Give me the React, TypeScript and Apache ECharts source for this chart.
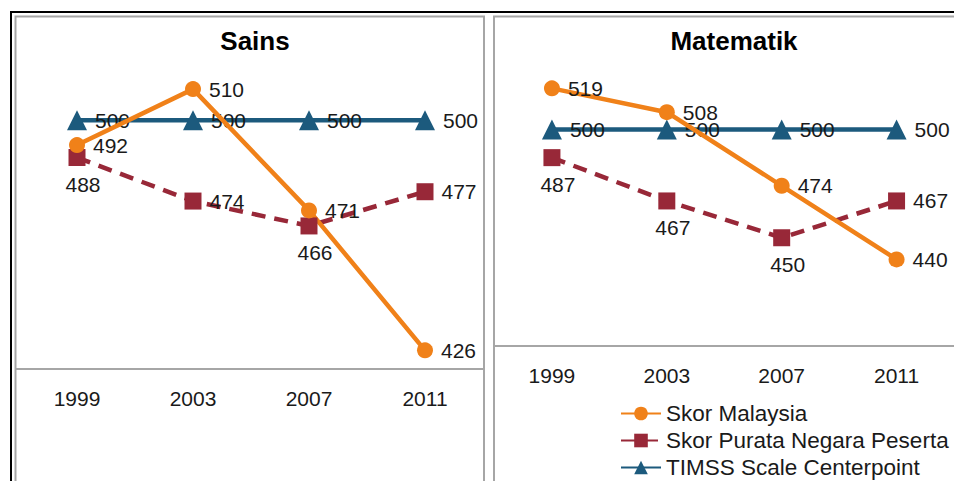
import React, { useEffect, useRef } from "react";
import * as echarts from "echarts";

const years = ["1999", "2003", "2007", "2011"];
const sainsMalaysia = [492, 510, 471, 426];
const sainsPurata = [488, 474, 466, 477];
const sainsTimss = [500, 500, 500, 500];
const mathMalaysia = [519, 508, 474, 440];
const mathPurata = [487, 467, 450, 467];
const mathTimss = [500, 500, 500, 500];

const sainsMalaysiaPos = ["right", "right", "right", "right"];
const sainsPurataPos = ["bottom", "right", "bottom", "right"];
const mathMalaysiaPos = ["right", "right", "right", "right"];
const mathPurataPos = ["bottom", "bottom", "bottom", "right"];

const NAME_MY = "Skor Malaysia";
const NAME_PU = "Skor Purata Negara Peserta";
const NAME_TI = "TIMSS Scale Centerpoint";

const ORANGE = "#F08119";
const RED = "#982838";
const BLUE = "#1C5A7D";
const FONT = "Liberation Sans, Arial, sans-serif";

const lbl = { fontFamily: FONT, fontSize: 21, color: "#1a1a1a", distance: 8 };

function withPos(vals: number[], pos: string[]) {
  return vals.map((v, i) => ({
    value: v,
    label: pos[i] === "bottom" ? { position: "bottom", offset: [6, 0] } : { position: pos[i] },
  }));
}

export default function App() {
  const ref = useRef<HTMLDivElement>(null);
  useEffect(() => {
    const chart = echarts.init(ref.current!, null, { renderer: "svg" });
    const mk = (
      name: string,
      idx: number,
      data: any[],
      color: string,
      symbol: string,
      size: number,
      dashed: boolean
    ) => ({
      name,
      type: "line",
      xAxisIndex: idx,
      yAxisIndex: idx,
      data,
      symbol,
      symbolSize: size,
      itemStyle: { color },
      lineStyle: { color, width: 4.5, type: dashed ? [14, 9] : "solid" },
      label: { show: true, position: "right", ...lbl },
      z: name === NAME_TI ? 2 : 3,
    });
    chart.setOption({
      animation: false,
      backgroundColor: "#ffffff",
      title: [
        {
          text: "Sains",
          left: 250,
          textAlign: "center",
          top: 23,
          textStyle: { fontFamily: FONT, fontSize: 26, fontWeight: "bold", color: "#000" },
        },
        {
          text: "Matematik",
          left: 729,
          textAlign: "center",
          top: 23,
          textStyle: { fontFamily: FONT, fontSize: 26, fontWeight: "bold", color: "#000" },
        },
      ],
      legend: {
        data: [NAME_MY, NAME_PU, NAME_TI],
        orient: "vertical",
        left: 620,
        top: 402,
        height: 150,
        padding: 0,
        itemWidth: 40,
        itemHeight: 17,
        itemGap: 4,
        textStyle: { fontFamily: FONT, fontSize: 22.5, lineHeight: 22, color: "#1a1a1a" },
      },
      grid: [
        { left: 19, top: 58, width: 464, height: 311 },
        { left: 494.5, top: 42.9, width: 468, height: 303.1 },
      ],
      xAxis: [0, 1].map((i) => ({
        type: "category",
        gridIndex: i,
        data: years,
        boundaryGap: true,
        axisLine: { show: true, lineStyle: { color: "#a6a6a6", width: 2 } },
        axisTick: { show: false },
        axisLabel: { fontFamily: FONT, fontSize: 21, color: "#1a1a1a", margin: 19 },
        splitLine: { show: false },
      })),
      yAxis: [
        { type: "value", gridIndex: 0, min: 420, max: 520, show: false },
        { type: "value", gridIndex: 1, min: 400, max: 540, show: false },
      ],
      graphic: [
        {
          type: "rect",
          shape: { x: 11, y: 12, width: 1000, height: 520 },
          style: { fill: "none", stroke: "#000", lineWidth: 2 },
          silent: true,
        },
        {
          type: "rect",
          shape: { x: 15.5, y: 16.5, width: 468.5, height: 500 },
          style: { fill: "none", stroke: "#a6a6a6", lineWidth: 2 },
          silent: true,
        },
        {
          type: "rect",
          shape: { x: 494, y: 16.5, width: 500, height: 500 },
          style: { fill: "none", stroke: "#a6a6a6", lineWidth: 2 },
          silent: true,
        },
        {
          type: "line",
          shape: { x1: 16, y1: 369, x2: 484, y2: 369 },
          style: { stroke: "#a6a6a6", lineWidth: 2 },
          silent: true,
        },
        {
          type: "line",
          shape: { x1: 494, y1: 346, x2: 954, y2: 346 },
          style: { stroke: "#a6a6a6", lineWidth: 2 },
          silent: true,
        },
      ],
      series: [
        mk(NAME_TI, 0, sainsTimss, BLUE, "triangle", 20, false),
        mk(NAME_PU, 0, withPos(sainsPurata, sainsPurataPos), RED, "rect", 17, true),
        mk(NAME_MY, 0, withPos(sainsMalaysia, sainsMalaysiaPos), ORANGE, "circle", 16, false),
        mk(NAME_TI, 1, mathTimss, BLUE, "triangle", 20, false),
        mk(NAME_PU, 1, withPos(mathPurata, mathPurataPos), RED, "rect", 17, true),
        mk(NAME_MY, 1, withPos(mathMalaysia, mathMalaysiaPos), ORANGE, "circle", 16, false),
      ],
    });
    return () => chart.dispose();
  }, []);
  return (
    <div
      ref={ref}
      style={{ position: "fixed", left: 0, top: 0, width: 954, height: 481 }}
    />
  );
}
